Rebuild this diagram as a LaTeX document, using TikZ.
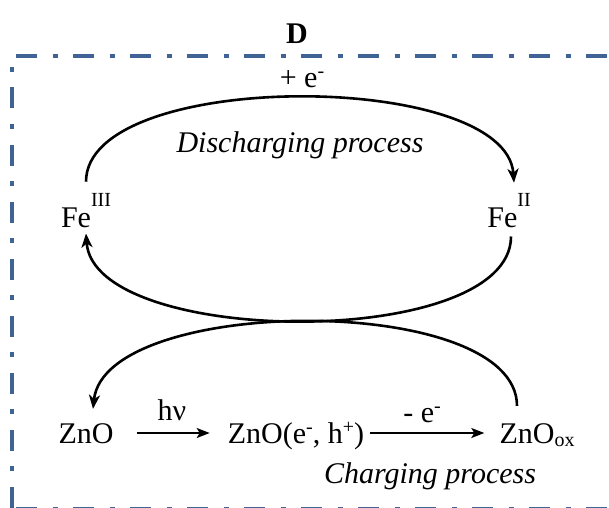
\documentclass[tikz,border=0pt]{standalone}
\usepackage{fontspec}
\setmainfont{Liberation Serif}
\usepackage{tikz}
\usetikzlibrary{arrows.meta}
\definecolor{frameblue}{RGB}{62,99,148}
\newcommand{\oxst}[1]{\raisebox{21pt}{\fontsize{20}{20}\selectfont #1}}
\newcommand{\charge}[1]{\raisebox{10pt}{\fontsize{20}{20}\selectfont #1}}
\newcommand{\lowidx}[1]{\raisebox{-3pt}{\fontsize{20}{20}\selectfont #1}}

\begin{document}
\begin{tikzpicture}[x=1pt, y=1pt,
    chem/.style={inner sep=0pt, anchor=base, font=\fontsize{30}{36}\selectfont},
    process/.style={inner sep=0pt, anchor=base, font=\fontsize{30}{36}\selectfont\itshape},
    cyclearrow/.style={line width=2.6pt, -{Stealth[length=14pt, width=11pt, inset=4pt]}},
    rxn/.style={line width=1.8pt, -{Stealth[length=13pt, width=10pt, inset=3pt]}},
    framedash/.style={draw=frameblue, line width=4pt},
]
  \useasboundingbox (0,0) rectangle (609,507);

  % dash-dot frame, cut at the right and bottom edges
  \begin{scope}
    \clip (0,0) rectangle (609,507);
    \draw[framedash, dash pattern=on 21pt off 15.5pt on 5pt off 15.5pt] (16,451) -- (620,451);
    \draw[framedash, dash pattern=on 5pt off 15.5pt on 21pt off 15.5pt] (12,440) -- (12,-5);
    \draw[framedash, dash pattern=on 21pt off 15.5pt on 5pt off 15.5pt] (16,-2) -- (620,-2);
  \end{scope}

  \node[chem, font=\fontsize{30}{36}\selectfont\bfseries] (paneltag) at (297,463) {D};

  \node[chem] (fethree) at (86,280) {Fe\oxst{III}};
  \node[chem] (fetwo) at (509,280) {Fe\oxst{II}};
  \node[chem] (gain) at (302,419) {+ e\charge{-}};
  \node[process] (discharge) at (300,355) {Discharging process};

  \node[chem] (zno) at (86,64) {ZnO};
  \node[chem] (znoeh) at (296,64) {ZnO(e\charge{-}, h\charge{+})};
  \node[chem] (znoox) at (537,64) {ZnO\lowidx{ox}};
  \node[chem] (hnu) at (172,87) {hν};
  \node[chem] (loss) at (422,85) {- e\charge{-}};
  \node[process] (charge) at (430,24) {Charging process};

  % iron cycle
  \draw[cyclearrow] ([yshift=11pt]fethree.north) .. controls +(0,113) and +(-8,113) .. ([shift={(5pt,10pt)}]fetwo.north);
  \draw[cyclearrow] ([shift={(2pt,-9pt)}]fetwo.south) .. controls +(0,-114) and +(8,-114) .. ([yshift=-6pt]fethree.south);

  % zinc oxide cycle
  \draw[cyclearrow] ([shift={(-20pt,17pt)}]znoox.north) .. controls +(0,114) and +(12,114) .. ([shift={(7pt,14pt)}]zno.north);
  \draw[rxn] ([shift={(23pt,10pt)}]zno.base east) -- ([shift={(-18pt,10pt)}]znoeh.base west);
  \draw[rxn] ([shift={(6pt,10pt)}]znoeh.base east) -- ([shift={(-15pt,10pt)}]znoox.base west);
\end{tikzpicture}
\end{document}
